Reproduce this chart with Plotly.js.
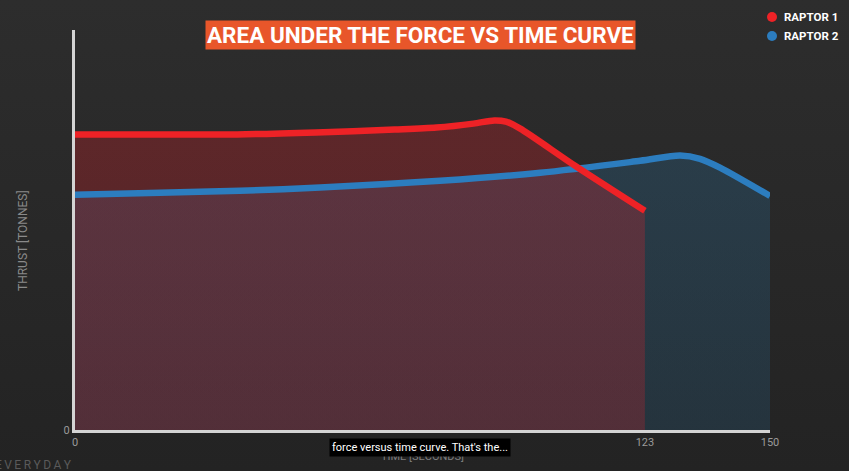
<!DOCTYPE html>
<html>
<head>
<meta charset="utf-8">
<script src="https://cdn.plot.ly/plotly-3.0.1.min.js"></script>
<style>
  html, body { margin: 0; padding: 0; width: 849px; height: 471px; overflow: hidden;
    background: linear-gradient(#2d2d2d, #232323); }
  #chart { width: 849px; height: 471px; }
</style>
</head>
<body>
<div id="chart"></div>
<script>
// Time in seconds
const raptor1Time   = [0, 18, 35, 52, 69, 78, 86, 90.5, 93, 96, 108, 123];
const raptor1Thrust = [73.9, 73.9, 73.9, 74.4, 75.1, 75.6, 76.6, 77.4, 77.1, 75.4, 66.0, 54.8];
const raptor2Time   = [0, 18.3, 35.6, 52.9, 78.8, 100.4, 122, 130.6, 134.9, 139.2, 150];
const raptor2Thrust = [58.8, 59.3, 59.8, 60.6, 62.3, 64.3, 67.3, 68.6, 67.8, 65.6, 58.5];
const xTicks = [0, 123, 150];
const yTicks = [0];
const seriesNames = ['RAPTOR 1', 'RAPTOR 2'];
const chartTitle = 'AREA UNDER THE FORCE VS TIME CURVE';
const xTitle = 'TIME [SECONDS]';
const yTitle = 'THRUST [TONNES]';
const caption = "force versus time curve. That's the...";

const red = '#ee2226';
const blue = '#2c7dbf';

function fillTrace(x, y, name, top, bottom) {
  return {
    x: x, y: y, name: name, type: 'scatter', mode: 'lines',
    line: { width: 0, shape: 'spline', smoothing: 0.8 },
    fill: 'tozeroy', fillcolor: top,
    fillgradient: { type: 'vertical', start: 0, stop: 70, colorscale: [[0, bottom], [1, top]] },
    hoverinfo: 'skip', showlegend: false
  };
}
function lineTrace(x, y, name, color) {
  return {
    x: x, y: y, name: name, type: 'scatter', mode: 'lines',
    line: { color: color, width: 6.5, shape: 'spline', smoothing: 0.8 },
    hoverinfo: 'skip'
  };
}

const traces = [
  fillTrace(raptor2Time, raptor2Thrust, seriesNames[1], 'rgba(41,128,185,0.22)', 'rgba(41,128,185,0.17)'),
  fillTrace(raptor1Time, raptor1Thrust, seriesNames[0], 'rgba(230,30,40,0.27)', 'rgba(230,30,40,0.235)'),
  lineTrace(raptor2Time, raptor2Thrust, seriesNames[1], blue),
  lineTrace(raptor1Time, raptor1Thrust, seriesNames[0], red)
];

const layout = {
  width: 849, height: 471,
  paper_bgcolor: 'rgba(0,0,0,0)', plot_bgcolor: 'rgba(0,0,0,0)',
  margin: { l: 75, r: 79, t: 30, b: 41 },
  showlegend: false,
  font: { family: 'Roboto, sans-serif', color: '#9a9a9a' },
  xaxis: {
    range: [0, 150], tickvals: xTicks, ticktext: xTicks.map(String),
    showline: true, linecolor: '#d4d4d4', linewidth: 3,
    showgrid: false, zeroline: false, ticks: '',
    tickfont: { size: 11, color: '#9a9a9a' },
    title: { text: xTitle, font: { size: 11, color: '#7d7d7d' }, standoff: 5 }
  },
  yaxis: {
    range: [0, 100], tickvals: yTicks, ticktext: yTicks.map(String),
    showline: true, linecolor: '#d4d4d4', linewidth: 3,
    showgrid: false, zeroline: false, ticks: '',
    tickfont: { size: 11, color: '#9a9a9a' }
  },
  shapes: [
    { type: 'circle', xref: 'paper', yref: 'paper',
      x0: (767 - 75) / 695, x1: (777 - 75) / 695, y0: (430 - 22) / 400, y1: (430 - 12) / 400,
      fillcolor: red, line: { width: 0 } },
    { type: 'circle', xref: 'paper', yref: 'paper',
      x0: (767 - 75) / 695, x1: (777 - 75) / 695, y0: (430 - 41) / 400, y1: (430 - 31) / 400,
      fillcolor: blue, line: { width: 0 } }
  ],
  annotations: [
    { text: yTitle, xref: 'paper', yref: 'paper', textangle: -90,
      x: (23 - 75) / 695, y: (430 - 241) / 400, xanchor: 'center', yanchor: 'middle',
      showarrow: false, font: { family: 'Roboto, sans-serif', size: 12, color: '#8a8a8a' } },
    { text: '<b>' + chartTitle + '</b>', xref: 'paper', yref: 'paper',
      x: (420 - 75) / 695, y: (430 - 35) / 400, xanchor: 'center', yanchor: 'middle',
      showarrow: false, bgcolor: '#e8562a', borderpad: 1,
      font: { family: 'Roboto, sans-serif', size: 22.5, color: '#ffffff' } },
    { text: '<b>' + seriesNames[0] + '</b>', xref: 'paper', yref: 'paper',
      x: (782 - 75) / 695, y: (430 - 17) / 400, xanchor: 'left', yanchor: 'middle',
      showarrow: false, font: { family: 'Roboto, sans-serif', size: 11.5, color: '#ffffff' } },
    { text: '<b>' + seriesNames[1] + '</b>', xref: 'paper', yref: 'paper',
      x: (782 - 75) / 695, y: (430 - 36) / 400, xanchor: 'left', yanchor: 'middle',
      showarrow: false, font: { family: 'Roboto, sans-serif', size: 11.5, color: '#ffffff' } },
    { text: caption, xref: 'paper', yref: 'paper',
      x: (420 - 75) / 695, y: (430 - 447) / 400, xanchor: 'center', yanchor: 'middle',
      showarrow: false, bgcolor: '#000000', borderpad: 2,
      font: { family: 'Roboto, sans-serif', size: 11, color: '#ffffff' } },
    { text: 'E\u2009V\u2009E\u2009R\u2009Y\u2009D\u2009A\u2009Y', xref: 'paper', yref: 'paper',
      x: (74 - 75) / 695, y: (430 - 465) / 400, xanchor: 'right', yanchor: 'middle',
      showarrow: false, font: { family: 'Roboto, sans-serif', size: 12, color: '#5a5a5a' } }
  ]
};

Plotly.newPlot('chart', traces, layout, { displayModeBar: false, staticPlot: true });
</script>
</body>
</html>
